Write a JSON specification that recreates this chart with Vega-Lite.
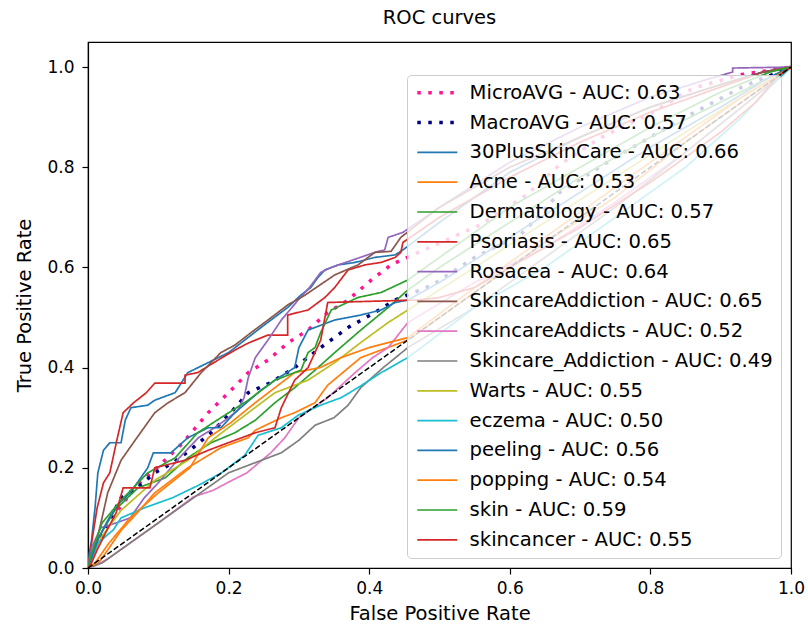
{
  "$schema": "https://vega.github.io/schema/vega-lite/v6.json",
  "width": 703,
  "height": 526,
  "autosize": {"type": "none"},
  "padding": {"left": 88, "top": 42, "right": 17, "bottom": 60},
  "background": "white",
  "title": {"text": "ROC curves", "fontSize": 19.5, "fontWeight": "normal", "font": "DejaVu Sans", "color": "#000", "offset": 14, "anchor": "middle"},
  "config": {
    "font": "DejaVu Sans",
    "view": {"stroke": "#000", "strokeWidth": 1.2},
    "axis": {"grid": false, "domainColor": "#000", "tickColor": "#000", "labelColor": "#000", "titleColor": "#000", "labelFontSize": 17, "titleFontSize": 19.5, "titleFontWeight": "normal", "tickSize": 6, "domainWidth": 1.2, "tickWidth": 1.2, "labelFlush": false},
    "axisX": {"labelPadding": 6, "titlePadding": 8},
    "axisY": {"labelPadding": 8, "titlePadding": 12}
  },
  "layer": [
    {
      "data": {"values": [
        {"s":"mi","x":0,"y":0},{"s":"mi","x":0.01,"y":0.04},{"s":"mi","x":0.03,"y":0.09},{"s":"mi","x":0.05,"y":0.13},{"s":"mi","x":0.075,"y":0.172},{"s":"mi","x":0.102,"y":0.205},{"s":"mi","x":0.135,"y":0.25},{"s":"mi","x":0.171,"y":0.31},{"s":"mi","x":0.2,"y":0.35},{"s":"mi","x":0.228,"y":0.39},{"s":"mi","x":0.256,"y":0.415},{"s":"mi","x":0.285,"y":0.45},{"s":"mi","x":0.313,"y":0.475},{"s":"mi","x":0.341,"y":0.51},{"s":"mi","x":0.37,"y":0.535},{"s":"mi","x":0.403,"y":0.575},{"s":"mi","x":0.431,"y":0.605},{"s":"mi","x":0.462,"y":0.625},{"s":"mi","x":0.558,"y":0.685},{"s":"mi","x":0.624,"y":0.745},{"s":"mi","x":0.671,"y":0.805},{"s":"mi","x":0.728,"y":0.858},{"s":"mi","x":0.804,"y":0.91},{"s":"mi","x":0.861,"y":0.958},{"s":"mi","x":0.93,"y":0.985},{"s":"mi","x":1,"y":1},
        {"s":"ma","x":0,"y":0},{"s":"ma","x":0.01,"y":0.04},{"s":"ma","x":0.025,"y":0.08},{"s":"ma","x":0.047,"y":0.14},{"s":"ma","x":0.07,"y":0.16},{"s":"ma","x":0.095,"y":0.19},{"s":"ma","x":0.121,"y":0.21},{"s":"ma","x":0.145,"y":0.235},{"s":"ma","x":0.175,"y":0.27},{"s":"ma","x":0.203,"y":0.31},{"s":"ma","x":0.228,"y":0.35},{"s":"ma","x":0.26,"y":0.37},{"s":"ma","x":0.294,"y":0.4},{"s":"ma","x":0.331,"y":0.44},{"s":"ma","x":0.37,"y":0.48},{"s":"ma","x":0.408,"y":0.51},{"s":"ma","x":0.437,"y":0.535},{"s":"ma","x":0.49,"y":0.565},{"s":"ma","x":0.55,"y":0.62},{"s":"ma","x":0.615,"y":0.665},{"s":"ma","x":0.643,"y":0.705},{"s":"ma","x":0.671,"y":0.75},{"s":"ma","x":0.75,"y":0.82},{"s":"ma","x":0.85,"y":0.9},{"s":"ma","x":0.93,"y":0.96},{"s":"ma","x":1,"y":1},
        {"s":"p30","x":0,"y":0},{"s":"p30","x":0.002,"y":0.03},{"s":"p30","x":0.005,"y":0.055},{"s":"p30","x":0.01,"y":0.12},{"s":"p30","x":0.014,"y":0.19},{"s":"p30","x":0.022,"y":0.235},{"s":"p30","x":0.031,"y":0.25},{"s":"p30","x":0.047,"y":0.25},{"s":"p30","x":0.053,"y":0.295},{"s":"p30","x":0.061,"y":0.32},{"s":"p30","x":0.085,"y":0.325},{"s":"p30","x":0.095,"y":0.335},{"s":"p30","x":0.124,"y":0.35},{"s":"p30","x":0.142,"y":0.39},{"s":"p30","x":0.171,"y":0.41},{"s":"p30","x":0.2,"y":0.43},{"s":"p30","x":0.246,"y":0.48},{"s":"p30","x":0.284,"y":0.52},{"s":"p30","x":0.303,"y":0.545},{"s":"p30","x":0.317,"y":0.56},{"s":"p30","x":0.327,"y":0.58},{"s":"p30","x":0.337,"y":0.595},{"s":"p30","x":0.356,"y":0.605},{"s":"p30","x":0.38,"y":0.61},{"s":"p30","x":0.408,"y":0.62},{"s":"p30","x":0.437,"y":0.625},{"s":"p30","x":0.448,"y":0.635},{"s":"p30","x":0.5,"y":0.69},{"s":"p30","x":0.6,"y":0.79},{"s":"p30","x":0.7,"y":0.86},{"s":"p30","x":0.8,"y":0.92},{"s":"p30","x":0.9,"y":0.965},{"s":"p30","x":0.96,"y":0.99},{"s":"p30","x":1,"y":1},
        {"s":"acne","x":0,"y":0},{"s":"acne","x":0.015,"y":0.01},{"s":"acne","x":0.03,"y":0.04},{"s":"acne","x":0.047,"y":0.075},{"s":"acne","x":0.07,"y":0.11},{"s":"acne","x":0.095,"y":0.15},{"s":"acne","x":0.142,"y":0.2},{"s":"acne","x":0.189,"y":0.24},{"s":"acne","x":0.228,"y":0.26},{"s":"acne","x":0.238,"y":0.275},{"s":"acne","x":0.275,"y":0.3},{"s":"acne","x":0.294,"y":0.31},{"s":"acne","x":0.323,"y":0.33},{"s":"acne","x":0.341,"y":0.365},{"s":"acne","x":0.388,"y":0.42},{"s":"acne","x":0.455,"y":0.455},{"s":"acne","x":0.55,"y":0.55},{"s":"acne","x":0.65,"y":0.65},{"s":"acne","x":0.75,"y":0.74},{"s":"acne","x":0.85,"y":0.85},{"s":"acne","x":0.93,"y":0.93},{"s":"acne","x":1,"y":1},
        {"s":"derm","x":0,"y":0},{"s":"derm","x":0.005,"y":0.02},{"s":"derm","x":0.015,"y":0.06},{"s":"derm","x":0.038,"y":0.115},{"s":"derm","x":0.071,"y":0.16},{"s":"derm","x":0.11,"y":0.18},{"s":"derm","x":0.142,"y":0.22},{"s":"derm","x":0.175,"y":0.25},{"s":"derm","x":0.209,"y":0.27},{"s":"derm","x":0.238,"y":0.295},{"s":"derm","x":0.266,"y":0.33},{"s":"derm","x":0.294,"y":0.36},{"s":"derm","x":0.323,"y":0.395},{"s":"derm","x":0.351,"y":0.43},{"s":"derm","x":0.388,"y":0.475},{"s":"derm","x":0.427,"y":0.52},{"s":"derm","x":0.455,"y":0.555},{"s":"derm","x":0.5,"y":0.6},{"s":"derm","x":0.6,"y":0.69},{"s":"derm","x":0.7,"y":0.78},{"s":"derm","x":0.8,"y":0.86},{"s":"derm","x":0.9,"y":0.93},{"s":"derm","x":0.97,"y":0.98},{"s":"derm","x":1,"y":1},
        {"s":"pso","x":0,"y":0},{"s":"pso","x":0.004,"y":0.04},{"s":"pso","x":0.013,"y":0.12},{"s":"pso","x":0.022,"y":0.17},{"s":"pso","x":0.031,"y":0.19},{"s":"pso","x":0.041,"y":0.255},{"s":"pso","x":0.05,"y":0.31},{"s":"pso","x":0.065,"y":0.33},{"s":"pso","x":0.083,"y":0.35},{"s":"pso","x":0.095,"y":0.369},{"s":"pso","x":0.138,"y":0.369},{"s":"pso","x":0.138,"y":0.385},{"s":"pso","x":0.156,"y":0.39},{"s":"pso","x":0.185,"y":0.415},{"s":"pso","x":0.209,"y":0.435},{"s":"pso","x":0.228,"y":0.449},{"s":"pso","x":0.256,"y":0.465},{"s":"pso","x":0.284,"y":0.465},{"s":"pso","x":0.284,"y":0.505},{"s":"pso","x":0.313,"y":0.515},{"s":"pso","x":0.337,"y":0.54},{"s":"pso","x":0.351,"y":0.56},{"s":"pso","x":0.37,"y":0.595},{"s":"pso","x":0.394,"y":0.605},{"s":"pso","x":0.417,"y":0.61},{"s":"pso","x":0.437,"y":0.62},{"s":"pso","x":0.445,"y":0.63},{"s":"pso","x":0.448,"y":0.65},{"s":"pso","x":0.5,"y":0.7},{"s":"pso","x":0.6,"y":0.78},{"s":"pso","x":0.7,"y":0.85},{"s":"pso","x":0.8,"y":0.91},{"s":"pso","x":0.9,"y":0.96},{"s":"pso","x":0.96,"y":0.99},{"s":"pso","x":1,"y":1},
        {"s":"ros","x":0,"y":0},{"s":"ros","x":0.005,"y":0.04},{"s":"ros","x":0.018,"y":0.08},{"s":"ros","x":0.04,"y":0.09},{"s":"ros","x":0.06,"y":0.1},{"s":"ros","x":0.08,"y":0.14},{"s":"ros","x":0.1,"y":0.17},{"s":"ros","x":0.13,"y":0.22},{"s":"ros","x":0.157,"y":0.26},{"s":"ros","x":0.18,"y":0.28},{"s":"ros","x":0.2,"y":0.3},{"s":"ros","x":0.213,"y":0.315},{"s":"ros","x":0.222,"y":0.34},{"s":"ros","x":0.228,"y":0.38},{"s":"ros","x":0.238,"y":0.42},{"s":"ros","x":0.256,"y":0.455},{"s":"ros","x":0.275,"y":0.495},{"s":"ros","x":0.299,"y":0.535},{"s":"ros","x":0.315,"y":0.56},{"s":"ros","x":0.331,"y":0.59},{"s":"ros","x":0.346,"y":0.6},{"s":"ros","x":0.356,"y":0.605},{"s":"ros","x":0.408,"y":0.63},{"s":"ros","x":0.422,"y":0.635},{"s":"ros","x":0.427,"y":0.66},{"s":"ros","x":0.448,"y":0.67},{"s":"ros","x":0.5,"y":0.72},{"s":"ros","x":0.6,"y":0.81},{"s":"ros","x":0.7,"y":0.88},{"s":"ros","x":0.8,"y":0.94},{"s":"ros","x":0.88,"y":0.975},{"s":"ros","x":0.917,"y":0.99},{"s":"ros","x":0.917,"y":0.998},{"s":"ros","x":1,"y":1},
        {"s":"sca","x":0,"y":0},{"s":"sca","x":0.004,"y":0.02},{"s":"sca","x":0.01,"y":0.04},{"s":"sca","x":0.02,"y":0.1},{"s":"sca","x":0.028,"y":0.15},{"s":"sca","x":0.047,"y":0.215},{"s":"sca","x":0.067,"y":0.255},{"s":"sca","x":0.095,"y":0.31},{"s":"sca","x":0.114,"y":0.33},{"s":"sca","x":0.138,"y":0.35},{"s":"sca","x":0.161,"y":0.39},{"s":"sca","x":0.189,"y":0.43},{"s":"sca","x":0.209,"y":0.445},{"s":"sca","x":0.232,"y":0.47},{"s":"sca","x":0.256,"y":0.495},{"s":"sca","x":0.284,"y":0.525},{"s":"sca","x":0.309,"y":0.545},{"s":"sca","x":0.33,"y":0.565},{"s":"sca","x":0.351,"y":0.585},{"s":"sca","x":0.384,"y":0.605},{"s":"sca","x":0.408,"y":0.63},{"s":"sca","x":0.431,"y":0.632},{"s":"sca","x":0.445,"y":0.66},{"s":"sca","x":0.5,"y":0.72},{"s":"sca","x":0.6,"y":0.8},{"s":"sca","x":0.7,"y":0.86},{"s":"sca","x":0.8,"y":0.92},{"s":"sca","x":0.9,"y":0.965},{"s":"sca","x":0.96,"y":0.99},{"s":"sca","x":1,"y":1},
        {"s":"scs","x":0,"y":0},{"s":"scs","x":0.013,"y":0.006},{"s":"scs","x":0.03,"y":0.02},{"s":"scs","x":0.06,"y":0.05},{"s":"scs","x":0.1,"y":0.09},{"s":"scs","x":0.15,"y":0.142},{"s":"scs","x":0.178,"y":0.155},{"s":"scs","x":0.198,"y":0.17},{"s":"scs","x":0.226,"y":0.19},{"s":"scs","x":0.26,"y":0.23},{"s":"scs","x":0.28,"y":0.26},{"s":"scs","x":0.3,"y":0.3},{"s":"scs","x":0.341,"y":0.34},{"s":"scs","x":0.38,"y":0.39},{"s":"scs","x":0.405,"y":0.42},{"s":"scs","x":0.427,"y":0.44},{"s":"scs","x":0.455,"y":0.49},{"s":"scs","x":0.55,"y":0.57},{"s":"scs","x":0.65,"y":0.64},{"s":"scs","x":0.75,"y":0.73},{"s":"scs","x":0.85,"y":0.83},{"s":"scs","x":0.93,"y":0.92},{"s":"scs","x":1,"y":1},
        {"s":"sc_","x":0,"y":0},{"s":"sc_","x":0.02,"y":0.01},{"s":"sc_","x":0.05,"y":0.04},{"s":"sc_","x":0.1,"y":0.09},{"s":"sc_","x":0.15,"y":0.14},{"s":"sc_","x":0.2,"y":0.19},{"s":"sc_","x":0.228,"y":0.205},{"s":"sc_","x":0.275,"y":0.23},{"s":"sc_","x":0.3,"y":0.255},{"s":"sc_","x":0.323,"y":0.285},{"s":"sc_","x":0.35,"y":0.3},{"s":"sc_","x":0.37,"y":0.325},{"s":"sc_","x":0.388,"y":0.36},{"s":"sc_","x":0.42,"y":0.4},{"s":"sc_","x":0.455,"y":0.44},{"s":"sc_","x":0.55,"y":0.52},{"s":"sc_","x":0.65,"y":0.62},{"s":"sc_","x":0.75,"y":0.72},{"s":"sc_","x":0.85,"y":0.83},{"s":"sc_","x":0.93,"y":0.92},{"s":"sc_","x":1,"y":1},
        {"s":"wart","x":0,"y":0},{"s":"wart","x":0.005,"y":0.015},{"s":"wart","x":0.018,"y":0.06},{"s":"wart","x":0.047,"y":0.115},{"s":"wart","x":0.095,"y":0.175},{"s":"wart","x":0.142,"y":0.215},{"s":"wart","x":0.181,"y":0.26},{"s":"wart","x":0.228,"y":0.31},{"s":"wart","x":0.266,"y":0.35},{"s":"wart","x":0.313,"y":0.375},{"s":"wart","x":0.351,"y":0.41},{"s":"wart","x":0.388,"y":0.45},{"s":"wart","x":0.427,"y":0.49},{"s":"wart","x":0.455,"y":0.515},{"s":"wart","x":0.55,"y":0.6},{"s":"wart","x":0.65,"y":0.69},{"s":"wart","x":0.75,"y":0.78},{"s":"wart","x":0.85,"y":0.87},{"s":"wart","x":0.93,"y":0.94},{"s":"wart","x":1,"y":1},
        {"s":"ecz","x":0,"y":0},{"s":"ecz","x":0.014,"y":0.05},{"s":"ecz","x":0.036,"y":0.076},{"s":"ecz","x":0.047,"y":0.1},{"s":"ecz","x":0.08,"y":0.12},{"s":"ecz","x":0.12,"y":0.14},{"s":"ecz","x":0.157,"y":0.165},{"s":"ecz","x":0.19,"y":0.19},{"s":"ecz","x":0.223,"y":0.225},{"s":"ecz","x":0.242,"y":0.265},{"s":"ecz","x":0.275,"y":0.28},{"s":"ecz","x":0.299,"y":0.305},{"s":"ecz","x":0.331,"y":0.325},{"s":"ecz","x":0.36,"y":0.34},{"s":"ecz","x":0.384,"y":0.36},{"s":"ecz","x":0.417,"y":0.39},{"s":"ecz","x":0.455,"y":0.42},{"s":"ecz","x":0.55,"y":0.52},{"s":"ecz","x":0.65,"y":0.6},{"s":"ecz","x":0.75,"y":0.7},{"s":"ecz","x":0.85,"y":0.8},{"s":"ecz","x":0.93,"y":0.9},{"s":"ecz","x":0.97,"y":0.96},{"s":"ecz","x":1,"y":1},
        {"s":"peel","x":0,"y":0},{"s":"peel","x":0.005,"y":0.02},{"s":"peel","x":0.015,"y":0.06},{"s":"peel","x":0.03,"y":0.1},{"s":"peel","x":0.045,"y":0.13},{"s":"peel","x":0.06,"y":0.15},{"s":"peel","x":0.075,"y":0.18},{"s":"peel","x":0.085,"y":0.2},{"s":"peel","x":0.093,"y":0.23},{"s":"peel","x":0.118,"y":0.23},{"s":"peel","x":0.142,"y":0.26},{"s":"peel","x":0.171,"y":0.28},{"s":"peel","x":0.189,"y":0.28},{"s":"peel","x":0.209,"y":0.31},{"s":"peel","x":0.246,"y":0.355},{"s":"peel","x":0.266,"y":0.375},{"s":"peel","x":0.294,"y":0.4},{"s":"peel","x":0.3,"y":0.44},{"s":"peel","x":0.313,"y":0.475},{"s":"peel","x":0.351,"y":0.495},{"s":"peel","x":0.388,"y":0.505},{"s":"peel","x":0.417,"y":0.515},{"s":"peel","x":0.437,"y":0.53},{"s":"peel","x":0.455,"y":0.535},{"s":"peel","x":0.5,"y":0.57},{"s":"peel","x":0.6,"y":0.66},{"s":"peel","x":0.7,"y":0.75},{"s":"peel","x":0.8,"y":0.84},{"s":"peel","x":0.9,"y":0.92},{"s":"peel","x":0.97,"y":0.98},{"s":"peel","x":1,"y":1},
        {"s":"pop","x":0,"y":0},{"s":"pop","x":0.01,"y":0.01},{"s":"pop","x":0.03,"y":0.05},{"s":"pop","x":0.06,"y":0.1},{"s":"pop","x":0.1,"y":0.15},{"s":"pop","x":0.145,"y":0.2},{"s":"pop","x":0.171,"y":0.26},{"s":"pop","x":0.203,"y":0.29},{"s":"pop","x":0.238,"y":0.33},{"s":"pop","x":0.266,"y":0.36},{"s":"pop","x":0.294,"y":0.39},{"s":"pop","x":0.33,"y":0.4},{"s":"pop","x":0.36,"y":0.42},{"s":"pop","x":0.4,"y":0.44},{"s":"pop","x":0.455,"y":0.46},{"s":"pop","x":0.55,"y":0.56},{"s":"pop","x":0.65,"y":0.66},{"s":"pop","x":0.75,"y":0.76},{"s":"pop","x":0.85,"y":0.86},{"s":"pop","x":0.93,"y":0.94},{"s":"pop","x":1,"y":1},
        {"s":"skin","x":0,"y":0},{"s":"skin","x":0.005,"y":0.03},{"s":"skin","x":0.02,"y":0.09},{"s":"skin","x":0.047,"y":0.135},{"s":"skin","x":0.085,"y":0.19},{"s":"skin","x":0.124,"y":0.22},{"s":"skin","x":0.156,"y":0.27},{"s":"skin","x":0.189,"y":0.3},{"s":"skin","x":0.228,"y":0.335},{"s":"skin","x":0.266,"y":0.375},{"s":"skin","x":0.303,"y":0.395},{"s":"skin","x":0.313,"y":0.43},{"s":"skin","x":0.323,"y":0.44},{"s":"skin","x":0.331,"y":0.47},{"s":"skin","x":0.346,"y":0.515},{"s":"skin","x":0.384,"y":0.54},{"s":"skin","x":0.417,"y":0.55},{"s":"skin","x":0.455,"y":0.575},{"s":"skin","x":0.5,"y":0.62},{"s":"skin","x":0.6,"y":0.72},{"s":"skin","x":0.7,"y":0.8},{"s":"skin","x":0.8,"y":0.88},{"s":"skin","x":0.9,"y":0.95},{"s":"skin","x":0.97,"y":0.99},{"s":"skin","x":1,"y":1},
        {"s":"canc","x":0,"y":0},{"s":"canc","x":0.005,"y":0.01},{"s":"canc","x":0.013,"y":0.036},{"s":"canc","x":0.025,"y":0.07},{"s":"canc","x":0.04,"y":0.11},{"s":"canc","x":0.05,"y":0.16},{"s":"canc","x":0.088,"y":0.16},{"s":"canc","x":0.095,"y":0.2},{"s":"canc","x":0.138,"y":0.215},{"s":"canc","x":0.171,"y":0.235},{"s":"canc","x":0.209,"y":0.255},{"s":"canc","x":0.238,"y":0.27},{"s":"canc","x":0.266,"y":0.28},{"s":"canc","x":0.275,"y":0.32},{"s":"canc","x":0.294,"y":0.375},{"s":"canc","x":0.313,"y":0.4},{"s":"canc","x":0.331,"y":0.455},{"s":"canc","x":0.341,"y":0.53},{"s":"canc","x":0.47,"y":0.535},{"s":"canc","x":0.5,"y":0.54},{"s":"canc","x":0.55,"y":0.56},{"s":"canc","x":0.6,"y":0.6},{"s":"canc","x":0.7,"y":0.68},{"s":"canc","x":0.8,"y":0.77},{"s":"canc","x":0.9,"y":0.87},{"s":"canc","x":0.95,"y":0.93},{"s":"canc","x":0.98,"y":0.98},{"s":"canc","x":1,"y":1}
      ]},
      "transform": [
        {"lookup": "s", "from": {"data": {"values": [
          {"s":"mi","label":"MicroAVG - AUC: 0.63"},
          {"s":"ma","label":"MacroAVG - AUC: 0.57"},
          {"s":"p30","label":"30PlusSkinCare - AUC: 0.66"},
          {"s":"acne","label":"Acne - AUC: 0.53"},
          {"s":"derm","label":"Dermatology - AUC: 0.57"},
          {"s":"pso","label":"Psoriasis - AUC: 0.65"},
          {"s":"ros","label":"Rosacea - AUC: 0.64"},
          {"s":"sca","label":"SkincareAddiction - AUC: 0.65"},
          {"s":"scs","label":"SkincareAddicts - AUC: 0.52"},
          {"s":"sc_","label":"Skincare_Addiction - AUC: 0.49"},
          {"s":"wart","label":"Warts - AUC: 0.55"},
          {"s":"ecz","label":"eczema - AUC: 0.50"},
          {"s":"peel","label":"peeling - AUC: 0.56"},
          {"s":"pop","label":"popping - AUC: 0.54"},
          {"s":"skin","label":"skin - AUC: 0.59"},
          {"s":"canc","label":"skincancer - AUC: 0.55"}
        ]}, "key": "s", "fields": ["label"]}}
      ],
      "mark": {"type": "line", "clip": true},
      "encoding": {
        "x": {"field": "x", "type": "quantitative", "scale": {"domain": [0, 1], "nice": false}, "axis": {"values": [0, 0.2, 0.4, 0.6, 0.8, 1.0], "format": ".1f", "title": "False Positive Rate"}},
        "y": {"field": "y", "type": "quantitative", "scale": {"domain": [0, 1.05], "nice": false}, "axis": {"values": [0, 0.2, 0.4, 0.6, 0.8, 1.0], "format": ".1f", "title": "True Positive Rate"}},
        "order": {"value": null},
        "color": {"field": "label", "type": "nominal",
          "scale": {"domain": ["MicroAVG - AUC: 0.63","MacroAVG - AUC: 0.57","30PlusSkinCare - AUC: 0.66","Acne - AUC: 0.53","Dermatology - AUC: 0.57","Psoriasis - AUC: 0.65","Rosacea - AUC: 0.64","SkincareAddiction - AUC: 0.65","SkincareAddicts - AUC: 0.52","Skincare_Addiction - AUC: 0.49","Warts - AUC: 0.55","eczema - AUC: 0.50","peeling - AUC: 0.56","popping - AUC: 0.54","skin - AUC: 0.59","skincancer - AUC: 0.55"],
            "range": ["#ff1493","#000080","#1f77b4","#ff7f0e","#2ca02c","#d62728","#9467bd","#8c564b","#e377c2","#7f7f7f","#bcbd22","#17becf","#1f77b4","#ff7f0e","#2ca02c","#d62728"]},
          "legend": {"orient": "none", "legendX": 319, "legendY": 33, "title": null, "symbolType": "M-4,0H4", "symbolSize": 100, "labelFontSize": 19.6, "labelColor": "#000", "padding": 8, "rowPadding": 8.8, "symbolOffset": 12.5, "labelOffset": 22.5, "fillColor": "rgba(255,255,255,0.8)", "strokeColor": "#cccccc", "cornerRadius": 4, "labelLimit": 600}},
        "strokeDash": {"field": "label", "type": "nominal",
          "scale": {"type": "ordinal", "domain": ["MicroAVG - AUC: 0.63","MacroAVG - AUC: 0.57","30PlusSkinCare - AUC: 0.66","Acne - AUC: 0.53","Dermatology - AUC: 0.57","Psoriasis - AUC: 0.65","Rosacea - AUC: 0.64","SkincareAddiction - AUC: 0.65","SkincareAddicts - AUC: 0.52","Skincare_Addiction - AUC: 0.49","Warts - AUC: 0.55","eczema - AUC: 0.50","peeling - AUC: 0.56","popping - AUC: 0.54","skin - AUC: 0.59","skincancer - AUC: 0.55"],
            "range": [[3.5,7.5],[3.5,7.5],[1,0],[1,0],[1,0],[1,0],[1,0],[1,0],[1,0],[1,0],[1,0],[1,0],[1,0],[1,0],[1,0],[1,0]]}},
        "strokeWidth": {"field": "label", "type": "nominal",
          "scale": {"type": "ordinal", "domain": ["MicroAVG - AUC: 0.63","MacroAVG - AUC: 0.57","30PlusSkinCare - AUC: 0.66","Acne - AUC: 0.53","Dermatology - AUC: 0.57","Psoriasis - AUC: 0.65","Rosacea - AUC: 0.64","SkincareAddiction - AUC: 0.65","SkincareAddicts - AUC: 0.52","Skincare_Addiction - AUC: 0.49","Warts - AUC: 0.55","eczema - AUC: 0.50","peeling - AUC: 0.56","popping - AUC: 0.54","skin - AUC: 0.59","skincancer - AUC: 0.55"],
            "range": [3.5,3.5,1.7,1.7,1.7,1.7,1.7,1.7,1.7,1.7,1.7,1.7,1.7,1.7,1.7,1.7]}}
      }
    },
    {
      "data": {"values": [{"x": 0, "y": 0}, {"x": 1, "y": 1}]},
      "mark": {"type": "line", "color": "#000", "strokeWidth": 1.5, "strokeDash": [5.5, 2.4]},
      "encoding": {
        "x": {"field": "x", "type": "quantitative"},
        "y": {"field": "y", "type": "quantitative"}
      }
    }
  ]
}
